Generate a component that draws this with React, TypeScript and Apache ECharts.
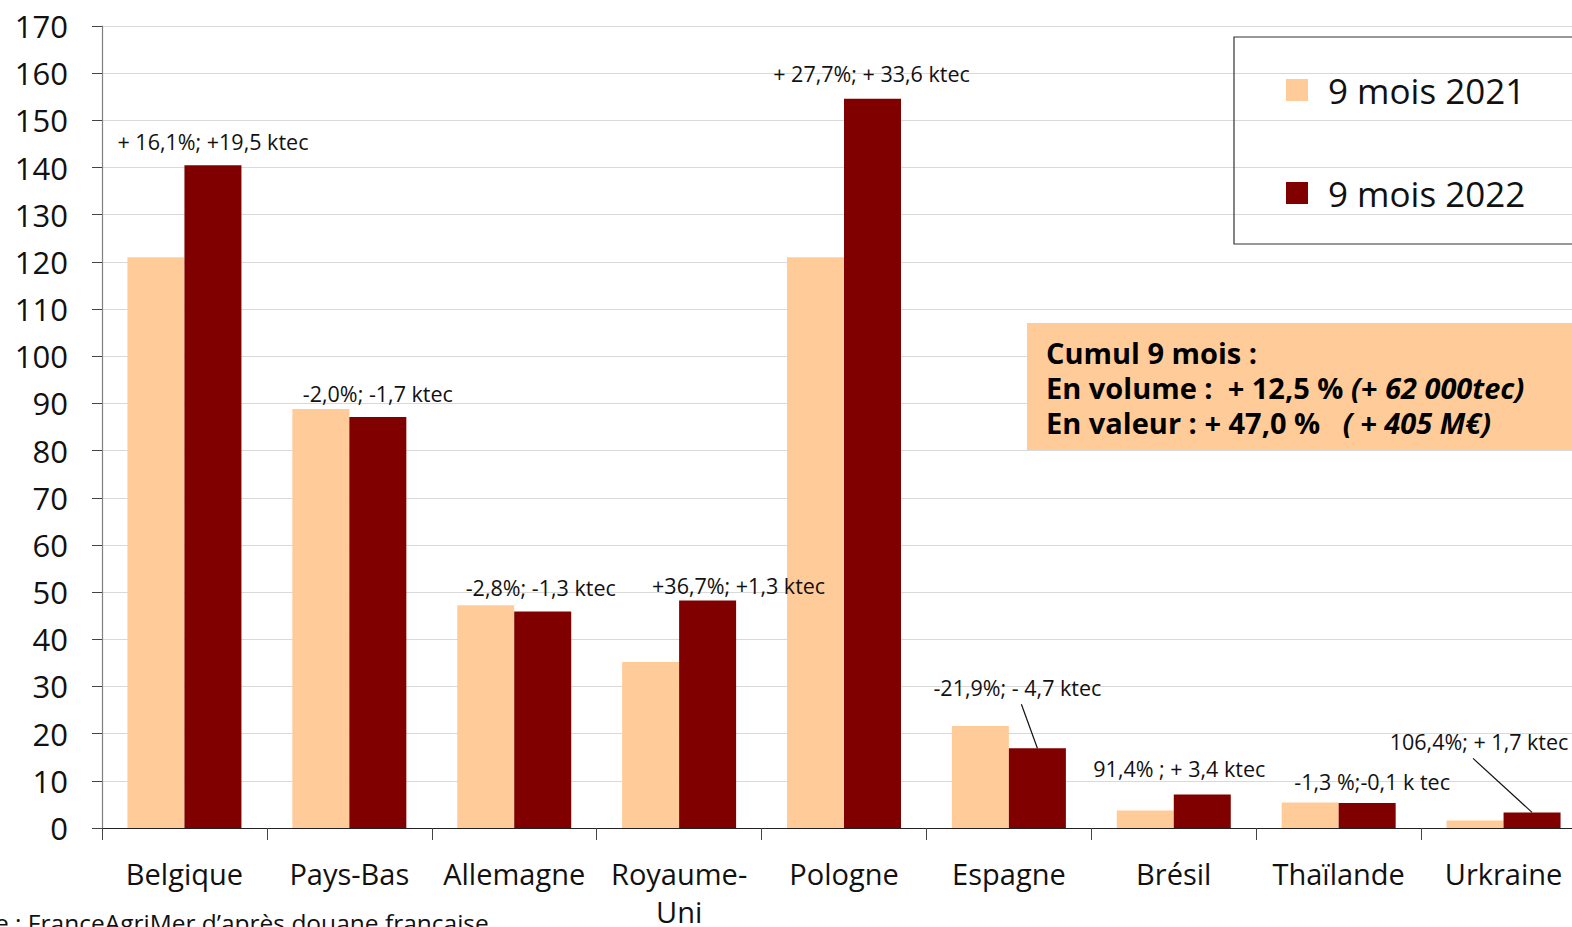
import React, { useEffect, useRef } from "react";
import * as echarts from "echarts";

const categories = ["Belgique", "Pays-Bas", "Allemagne", "Royaume-\nUni", "Pologne", "Espagne", "Brésil", "Thaïlande", "Urkraine"];
const values2021 = [121.0, 88.8, 47.2, 35.2, 121.0, 21.6, 3.7, 5.4, 1.6];
const values2022 = [140.5, 87.1, 45.9, 48.2, 154.6, 16.9, 7.1, 5.3, 3.3];
const changeLabels = [
  "+ 16,1%; +19,5 ktec",
  "-2,0%; -1,7 ktec",
  "-2,8%; -1,3 ktec",
  "+36,7%; +1,3 ktec",
  "+ 27,7%; + 33,6 ktec",
  "-21,9%; - 4,7 ktec",
  "91,4% ; + 3,4 ktec",
  "-1,3 %;-0,1 k tec",
  "106,4%; + 1,7 ktec",
];
const seriesNames = ["9 mois 2021", "9 mois 2022"];
const yTicks = { min: 0, max: 170, interval: 10 };
const cumulLines = [
  "{b|Cumul 9 mois :}",
  "{b|En volume :  + 12,5 % }{i|(+ 62 000tec)}",
  "{b|En valeur : + 47,0 %   }{i|( + 405 M€)}",
];

// label placement offsets (px) relative to the 2022 bar top
const labelOffsets: [number, number][] = [
  [0, 0], [0, 0], [-2, 0], [31, 9], [-1, -1], [-20, -37], [-23, -2], [5, 3], [-53, -47],
];
// leader lines: start point relative to the bar top (px)
const leaderFrom: { idx: number; dx: number; dy: number }[] = [
  { idx: 5, dx: -16, dy: -44 },
  { idx: 8, dx: -59, dy: -54 },
];

const FONT = "'Open Sans', 'Noto Sans', sans-serif";
const BAR_W = 57;

export default function App() {
  const ref = useRef<HTMLDivElement>(null);
  useEffect(() => {
    document.body.style.margin = "0";
    const chart = echarts.init(ref.current!, null, { renderer: "svg" });
    chart.setOption({
      animation: false,
      textStyle: { fontFamily: FONT },
      grid: { left: 102, top: 26, width: 1484, height: 802, outerBoundsMode: "none", containLabel: false },
      legend: {
        data: seriesNames,
        orient: "vertical",
        left: 1234,
        top: 37,
        itemWidth: 22,
        itemHeight: 22,
        itemGap: 63,
        icon: "rect",
        borderColor: "#333",
        borderWidth: 1.2,
        padding: [33, 60, 31, 52],
        textStyle: { fontSize: 35, color: "#111", fontFamily: FONT, padding: [0, 0, 0, 15], lineHeight: 40 },
      },
      xAxis: {
        type: "category",
        data: categories,
        axisLine: { lineStyle: { color: "#222", width: 1.2 } },
        axisTick: { show: true, length: 12, lineStyle: { color: "#444" } },
        axisLabel: { fontSize: 29, color: "#111", margin: 26, lineHeight: 38, interval: 0, fontFamily: FONT },
      },
      yAxis: {
        type: "value",
        min: yTicks.min,
        max: yTicks.max,
        interval: yTicks.interval,
        axisLine: { show: true, lineStyle: { color: "#7f7f7f", width: 1.2 } },
        axisTick: { show: true, length: 10, lineStyle: { color: "#444" } },
        axisLabel: { fontSize: 31, color: "#111", margin: 34, fontFamily: FONT },
        splitLine: { lineStyle: { color: "#d9d9d9", width: 1.2 } },
      },
      series: [
        {
          name: seriesNames[0],
          type: "bar",
          barWidth: BAR_W,
          barGap: "0%",
          itemStyle: { color: "#FFCC99" },
          data: values2021,
        },
        {
          name: seriesNames[1],
          type: "bar",
          barWidth: BAR_W,
          barGap: "0%",
          itemStyle: { color: "#800000" },
          data: values2022.map((v, i) => ({
            value: v,
            label: {
              show: true,
              position: "top",
              distance: 13,
              formatter: changeLabels[i],
              offset: labelOffsets[i],
              fontSize: 21.5,
              color: "#111",
              fontFamily: FONT,
            },
          })),
        },
      ],
    });

    const lines = leaderFrom.map((l) => {
      const p = chart.convertToPixel({ xAxisIndex: 0, yAxisIndex: 0 }, [l.idx, values2022[l.idx]]) as number[];
      const x2 = p[0] + BAR_W / 2;
      const y2 = p[1];
      return {
        type: "line",
        shape: { x1: x2 + l.dx, y1: y2 + l.dy, x2, y2 },
        style: { stroke: "#111", lineWidth: 1.2 },
        z: 10,
      };
    });

    const richStyle = {
      b: { fontSize: 29, fontWeight: "bold", fontFamily: FONT, color: "#000", lineHeight: 33 },
      i: { fontSize: 29, fontWeight: "bold", fontStyle: "italic", fontFamily: FONT, color: "#000", lineHeight: 33 },
    };

    chart.setOption({
      graphic: [
        ...lines,
        {
          type: "rect",
          shape: { x: 1027, y: 323, width: 560, height: 127 },
          style: { fill: "#FFCC99" },
          z: 5,
        },
        ...cumulLines.map((t, k) => ({
          type: "text",
          x: 1046,
          y: 352 + k * 35,
          z: 6,
          style: { text: t, rich: richStyle, verticalAlign: "middle", align: "left" },
        })),
        {
          type: "text",
          x: -70,
          y: 910,
          style: {
            text: "Source : FranceAgriMer d’après douane française",
            fontSize: 24.5,
            fontFamily: FONT,
            fill: "#111",
          },
        },
      ],
    });
    return () => chart.dispose();
  }, []);
  return <div ref={ref} style={{ width: 1572, height: 927 }} />;
}
